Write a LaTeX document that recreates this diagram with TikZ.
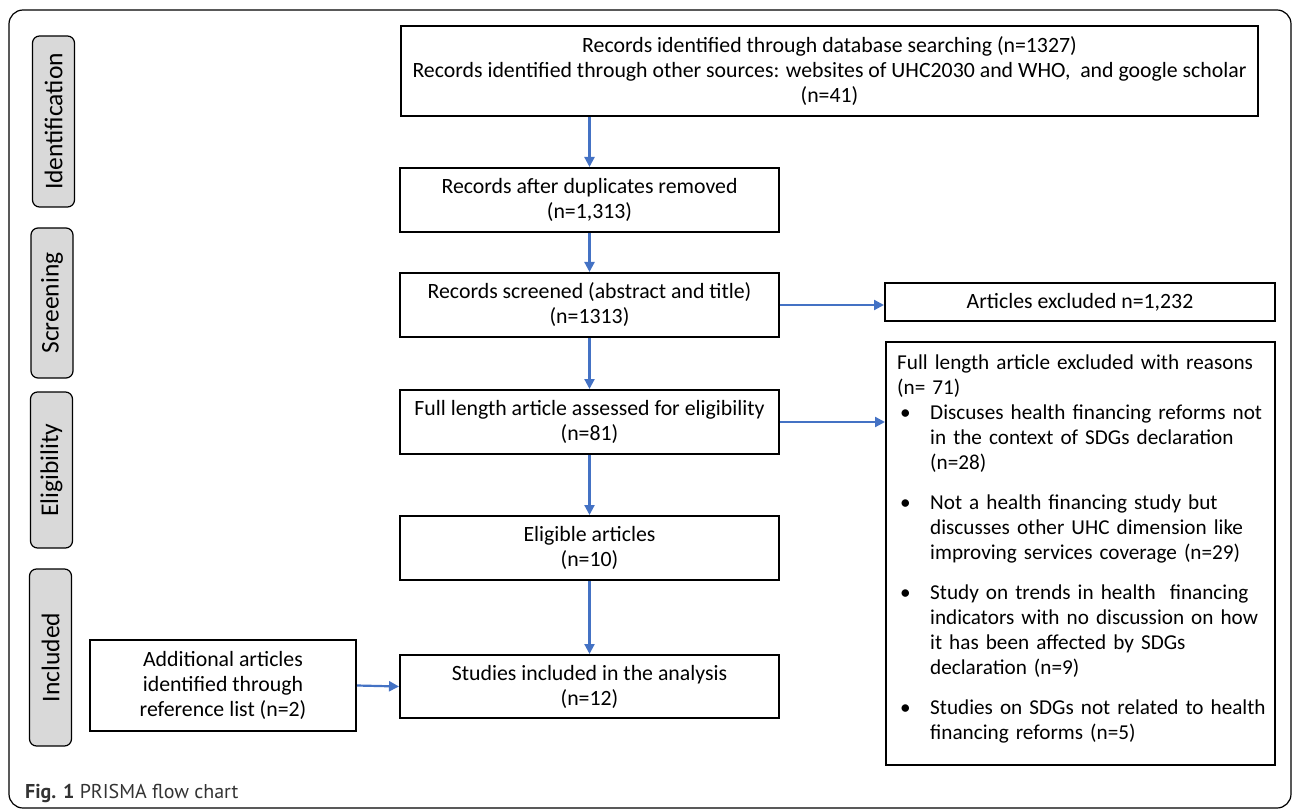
\documentclass[tikz,border=0pt]{standalone}
\usepackage{fontspec}
\setmainfont{Carlito}
\newfontfamily\capfont{PT Sans}
\usetikzlibrary{arrows.meta}
\definecolor{arrowblue}{HTML}{4472C4}
\definecolor{labelgrey}{HTML}{D9D9D9}
\definecolor{captiongrey}{HTML}{333333}
\newcommand{\rsn}[1]{\par\hangindent=33pt\hangafter=1\noindent\makebox[33pt][l]{\hspace{3pt}\textbullet}#1\par}
\begin{document}
\begin{tikzpicture}[x=1pt,y=-1pt,
  box/.style={draw, line width=2pt, inner sep=0pt, align=center,
    font=\fontsize{21.8}{25}\selectfont},
  stage/.style={draw, line width=1.2pt, fill=labelgrey, rounded corners=7pt,
    rotate=90, inner sep=0pt, minimum height=42pt,
    font=\fontsize{25.5}{28}\selectfont},
  flow/.style={draw=arrowblue, line width=2.2pt, -{Triangle[length=10pt,width=10pt]}}]
\useasboundingbox (0,0) rectangle (1292,810);
\draw[line width=1.2pt, rounded corners=14pt] (9,10) rectangle (1291,808);

% stage labels
\node[stage, minimum width=171pt] (sid) at (53.5,121.5) {Identification};
\node[stage, minimum width=150pt] (sscr) at (52,303) {Screening};
\node[stage, minimum width=156pt] (selig) at (51.5,470) {Eligibility};
\node[stage, minimum width=177pt] (sinc) at (50.5,657.5) {Included};

% main boxes
\node[box, minimum width=857pt, minimum height=90pt] (id) at (829.5,71)
  {Records identified through database searching (n=1327)\\
   Records identified through other sources: websites of UHC2030 and WHO,\ \ and google scholar\\
   (n=41)};
\node[box, minimum width=379pt, minimum height=64pt] (dup) at (589.5,200)
  {Records after duplicates removed\\(n=1,313)};
\node[box, minimum width=379pt, minimum height=64pt] (scr) at (589.5,305)
  {Records screened (abstract and title)\\(n=1313)};
\node[box, minimum width=379pt, minimum height=64pt] (full) at (589.5,422)
  {Full length article assessed for eligibility\\(n=81)};
\node[box, minimum width=379pt, minimum height=64pt] (elig) at (589.5,548)
  {Eligible articles\\(n=10)};
\node[box, minimum width=379pt, minimum height=63pt] (stud) at (589.5,686.5)
  {Studies included in the analysis\\(n=12)};
\node[box, minimum width=266pt, minimum height=91pt] (add) at (223,685.5)
  {Additional articles\\identified through\\reference list (n=2)};
\node[box, minimum width=390pt, minimum height=38pt] (excl) at (1080,302)
  {Articles excluded n=1,232};
\node[box, minimum width=389pt, minimum height=423pt] (rbox) at (1080.5,553.5) {};
\node[anchor=north west, inner sep=0pt, text width=378pt, align=left,
  font=\fontsize{21.2}{25}\selectfont] (reasons) at (897,355)
  {\noindent Full length article excluded with reasons\newline
   (n= 71)%
   \rsn{Discuses health financing reforms not\newline in the context of SDGs declaration\newline (n=28)}%
   \vspace{15pt}%
   \rsn{Not a health financing study but\newline discusses other UHC dimension like\newline improving services coverage (n=29)}%
   \vspace{15pt}%
   \rsn{Study on trends in health\ \ financing\newline indicators with no discussion on how\newline it has been affected by SDGs\newline declaration (n=9)}%
   \vspace{15pt}%
   \rsn{Studies on SDGs not related to health\newline financing reforms (n=5)}};

% connectors
\draw[flow] (id.south -| dup.north) -- (dup.north);
\draw[flow] (dup.south) -- (scr.north);
\draw[flow] (scr.south) -- (full.north);
\draw[flow] (full.south) -- (elig.north);
\draw[flow] (elig.south) -- (stud.north);
\draw[flow] (scr.east) -- (scr.east -| excl.west);
\draw[flow] (full.east) -- (full.east -| rbox.west);
\draw[flow] (add.east) -- (stud.west);

% caption
\node[anchor=base west, inner sep=0pt, text=captiongrey,
  font=\capfont\fontsize{20}{22}\selectfont] (cap) at (25,798)
  {\textbf{Fig. 1} PRISMA flow chart};
\end{tikzpicture}
\end{document}
